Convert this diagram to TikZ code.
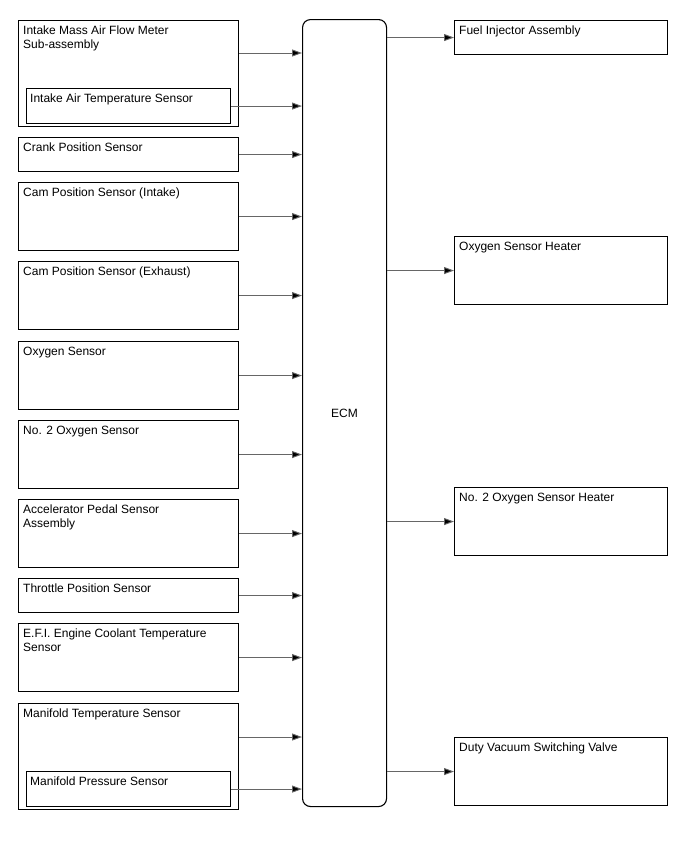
\documentclass[tikz,border=0pt]{standalone}
\usepackage{fontspec}
\setmainfont{Liberation Sans}
\usetikzlibrary{arrows.meta}

\begin{document}
\begin{tikzpicture}[x=1pt,y=-1pt,
    box/.style={draw,line width=1.1pt,anchor=north west,inner sep=0pt,minimum width=#1},
    box/.default=220pt,
    txt/.style={anchor=north west,inner sep=0pt,align=left,font=\fontsize{12}{14}\selectfont},
    conn/.style={draw=black!60,line width=0.9pt,-{Triangle[length=10pt,width=7pt,fill=black]}}]
    \useasboundingbox (0,0) rectangle (688,852);
    \node[box,minimum height=106pt] (maf) at (18,20) {};
    \node[box=204pt,minimum height=35pt] (iat) at (26,88) {};
    \node[box,minimum height=34pt] (crank) at (18,137) {};
    \node[box,minimum height=68pt] (camin) at (18,182) {};
    \node[box,minimum height=68pt] (camex) at (18,261) {};
    \node[box,minimum height=68pt] (oxs) at (18,341) {};
    \node[box,minimum height=68pt] (oxs2) at (18,420) {};
    \node[box,minimum height=68pt] (accel) at (18,499) {};
    \node[box,minimum height=34pt] (tps) at (18,578) {};
    \node[box,minimum height=68pt] (ect) at (18,623) {};
    \node[box,minimum height=106pt] (mft) at (18,703) {};
    \node[box=204pt,minimum height=35pt] (map) at (26,771) {};
    \node[txt] at ([shift={(5pt,-6pt)}]maf.north west) {Intake Mass Air Flow Meter\\Sub-assembly};
    \node[txt] at ([shift={(4pt,-6pt)}]iat.north west) {Intake Air Temperature Sensor};
    \node[txt] at ([shift={(5pt,-6pt)}]crank.north west) {Crank Position Sensor};
    \node[txt] at ([shift={(5pt,-6pt)}]camin.north west) {Cam Position Sensor (Intake)};
    \node[txt] at ([shift={(5pt,-6pt)}]camex.north west) {Cam Position Sensor (Exhaust)};
    \node[txt] at ([shift={(5pt,-6pt)}]oxs.north west) {Oxygen Sensor};
    \node[txt] at ([shift={(5pt,-6pt)}]oxs2.north west) {No. 2 Oxygen Sensor};
    \node[txt] at ([shift={(5pt,-6pt)}]accel.north west) {Accelerator Pedal Sensor\\Assembly};
    \node[txt] at ([shift={(5pt,-6pt)}]tps.north west) {Throttle Position Sensor};
    \node[txt] at ([shift={(5pt,-6pt)}]ect.north west) {E.F.I. Engine Coolant Temperature\\Sensor};
    \node[txt] at ([shift={(5pt,-6pt)}]mft.north west) {Manifold Temperature Sensor};
    \node[txt] at ([shift={(4pt,-6pt)}]map.north west) {Manifold Pressure Sensor};
    \node[box=84pt,minimum height=787pt,rounded corners=8pt,font=\fontsize{12}{14}\selectfont] (ecm) at (302,19) {\raisebox{-7pt}{ECM}};
    \node[box=213pt,minimum height=34pt] (inj) at (454,20) {};
    \node[box=213pt,minimum height=68pt] (heat) at (454,236) {};
    \node[box=213pt,minimum height=68pt] (heat2) at (454,487) {};
    \node[box=213pt,minimum height=68pt] (dvsv) at (454,737) {};
    \node[txt] at ([shift={(5pt,-6pt)}]inj.north west) {Fuel Injector Assembly};
    \node[txt] at ([shift={(5pt,-6pt)}]heat.north west) {Oxygen Sensor Heater};
    \node[txt] at ([shift={(5pt,-6pt)}]heat2.north west) {No. 2 Oxygen Sensor Heater};
    \node[txt] at ([shift={(5pt,-6pt)}]dvsv.north west) {Duty Vacuum Switching Valve};
    \draw[conn] ([yshift=-33pt]maf.north east) coordinate (a) -- (a -| ecm.west);
    \draw[conn] (iat.east) -- (iat.east -| ecm.west);
    \foreach \n in {crank,camin,camex,oxs,oxs2,accel,tps,ect}
        \draw[conn] (\n.east) -- (\n.east -| ecm.west);
    \draw[conn] ([yshift=-34pt]mft.north east) coordinate (b) -- (b -| ecm.west);
    \draw[conn] (map.east) -- (map.east -| ecm.west);
    \foreach \n in {inj,heat,heat2,dvsv}
        \draw[conn] (\n.west -| ecm.east) -- (\n.west);
\end{tikzpicture}
\end{document}
